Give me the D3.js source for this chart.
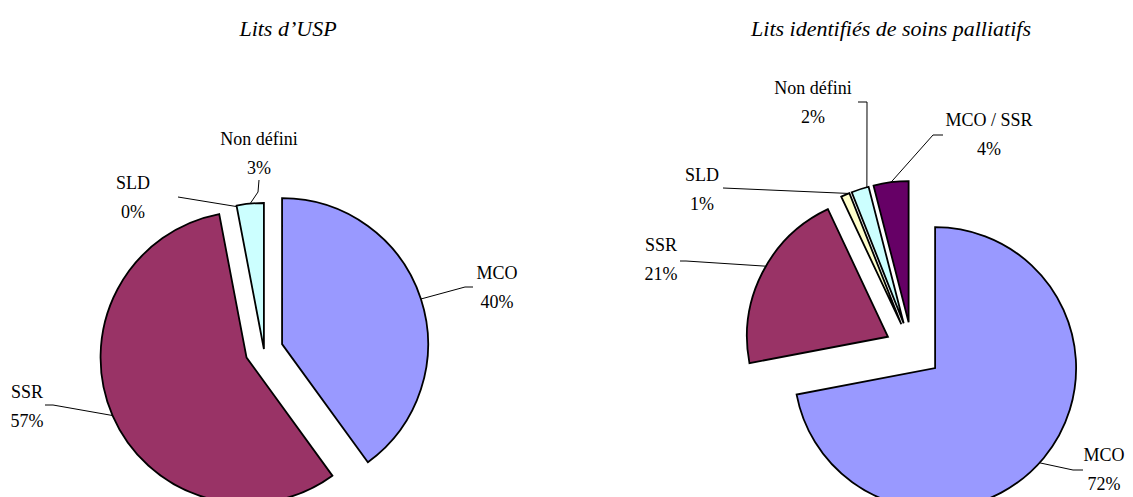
<!DOCTYPE html>
<html>
<head>
<meta charset="utf-8">
<style>
  body { margin: 0; background: #fff; }
  svg { display: block; }
  text { font-family: "Liberation Serif", "Times New Roman", serif; fill: #000; }
</style>
</head>
<body>
<svg width="1133" height="497"></svg>
<script src="https://cdn.jsdelivr.net/npm/d3@7"></script>
<script>
// --- data ---
var uspCats = ["MCO", "SSR", "SLD", "Non défini"];
var uspVals = [40, 57, 0, 3];

var litsCats = ["MCO", "SSR", "SLD", "Non défini", "MCO / SSR"];
var litsVals = [72, 21, 1, 2, 4];

var titles = ["Lits d\u2019USP", "Lits identifiés de soins palliatifs"];

// --- styles ---
var colors = {
  "MCO": "#9999ff",
  "SSR": "#993366",
  "SLD": "#ffffcc",
  "Non défini": "#ccffff",
  "MCO / SSR": "#660066"
};

var svg = d3.select("svg");

// layout of each pie: centre, radius, explode per slice, label placement
var pies = [
  {
    title: titles[0], titleX: 288,
    cats: uspCats, vals: uspVals,
    cx: 264, cy: 350, r: 146,
    explode: { "MCO": 19, "SSR": 19, "SLD": 0, "Non défini": 1 },
    labels: {
      "MCO":        { x: 497, y: 273, line: [[473, 287], [465, 287]], at: 0.5 },
      "SSR":        { x: 27,  y: 392, line: [[45, 405], [53, 405]], at: 0.5 },
      "SLD":        { x: 133, y: 183, line: [[178, 197]], at: 0.5 },
      "Non défini": { x: 259, y: 139, line: [[259, 180], [258, 192]], at: 0.5 }
    }
  },
  {
    title: titles[1], titleX: 891,
    cats: litsCats, vals: litsVals,
    cx: 912, cy: 349, r: 141,
    explode: { "MCO": 30, "SSR": 27, "SLD": 27, "Non défini": 27, "MCO / SSR": 27 },
    labels: {
      "MCO":        { x: 1104, y: 455, line: [[1083, 470], [1073, 470]], at: 0.51 },
      "SSR":        { x: 661,  y: 245, line: [[680, 261], [686, 261]], at: 0.54 },
      "SLD":        { x: 702,  y: 175, line: [[723, 188]], at: 0.9 },
      "Non défini": { x: 813,  y: 88,  line: [[858, 102], [867, 102]], at: 0.9 },
      "MCO / SSR":  { x: 989,  y: 120, line: [[943, 135], [933, 135]], at: 0.5 }
    }
  }
];

var arc = d3.arc().innerRadius(0);
var pie = d3.pie().sort(null).value(function(d) { return d.v; });

pies.forEach(function(p) {
  var rows = p.cats.map(function(c, i) { return { cat: c, v: p.vals[i] }; });
  var arcs = pie(rows);
  arc.outerRadius(p.r);

  svg.append("text")
    .attr("x", p.titleX).attr("y", 36)
    .attr("text-anchor", "middle")
    .attr("font-size", 22)
    .attr("font-style", "italic")
    .text(p.title);

  var g = svg.append("g").attr("transform", "translate(" + p.cx + "," + p.cy + ")");

  arcs.forEach(function(a) {
    var mid = (a.startAngle + a.endAngle) / 2;
    var d = p.explode[a.data.cat] || 0;
    a.ox = d * Math.sin(mid);
    a.oy = -d * Math.cos(mid);
  });

  g.selectAll("path.slice")
    .data(arcs.filter(function(a) { return a.data.v > 0; }))
    .enter().append("path")
    .attr("class", "slice")
    .attr("transform", function(a) { return "translate(" + a.ox + "," + a.oy + ")"; })
    .attr("d", arc)
    .attr("fill", function(a) { return colors[a.data.cat]; })
    .attr("stroke", "#000")
    .attr("stroke-width", 1.8)
    .attr("stroke-linejoin", "miter");

  // leader lines + labels
  arcs.forEach(function(a) {
    var lb = p.labels[a.data.cat];
    var ang = a.startAngle + (a.endAngle - a.startAngle) * lb.at;
    var ex = p.cx + a.ox + p.r * Math.sin(ang);
    var ey = p.cy + a.oy - p.r * Math.cos(ang);
    var pts = lb.line.concat([[ex, ey]]);
    svg.append("path")
      .attr("d", d3.line()(pts))
      .attr("fill", "none")
      .attr("stroke", "#000")
      .attr("stroke-width", 1);

    var t = svg.append("text")
      .attr("text-anchor", "middle")
      .attr("font-size", 18);
    t.append("tspan").attr("x", lb.x).attr("y", lb.y).attr("dy", "0.35em").text(a.data.cat);
    t.append("tspan").attr("x", lb.x).attr("y", lb.y + 29).attr("dy", "0.35em")
      .text(d3.format(".0f")(a.data.v) + "%");
  });
});
</script>
</body>
</html>
